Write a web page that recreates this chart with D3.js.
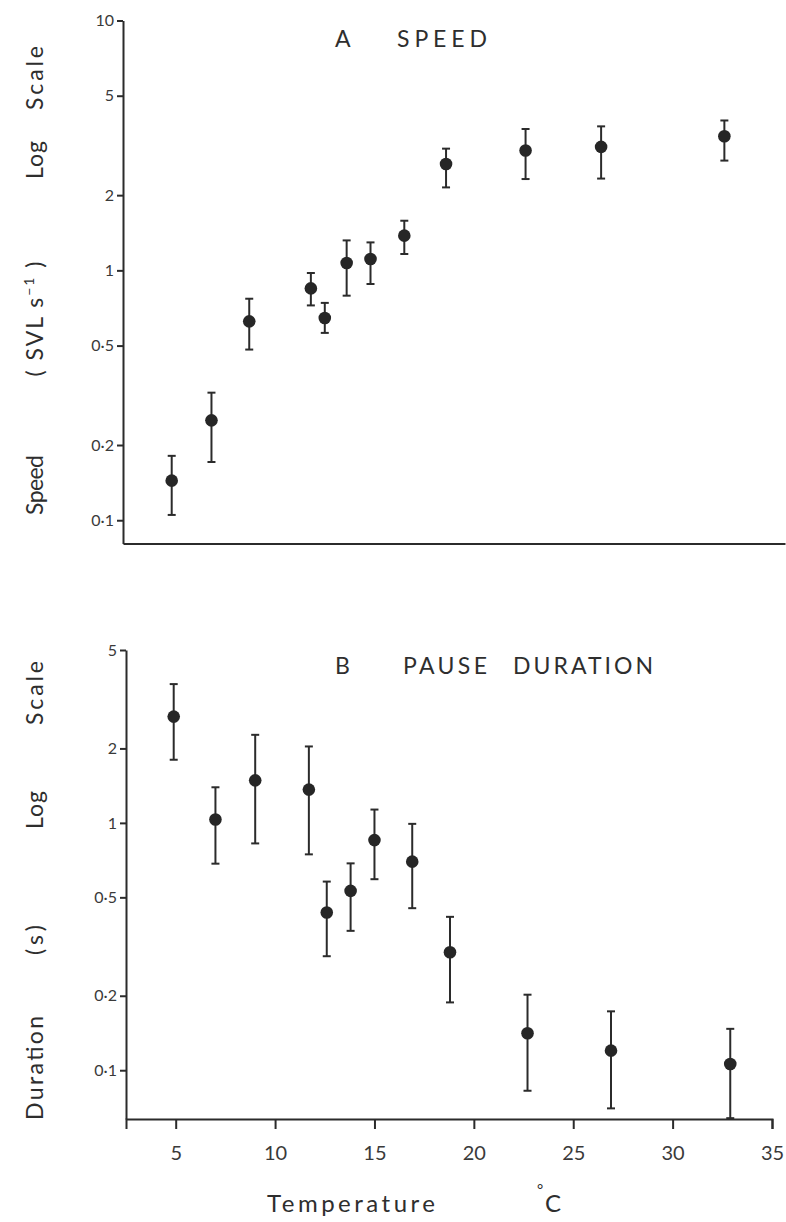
<!DOCTYPE html>
<meta charset="utf-8">
<style>
body { margin: 0; background: #fff; }
text { font-family: Lato, "Open Sans", sans-serif; fill: #2e2e2e; }
.axis path, .axis line { stroke: #2b2b2b; stroke-width: 2px; }
.axis text { font-size: 16px; fill: #3a3a3a; }
.xaxis text { font-size: 20px; }
.bar { stroke: #2b2b2b; stroke-width: 2px; }
.dot { fill: #262626; }
</style>
<body>
<script src="https://d3js.org/d3.v7.min.js"></script>
<script>

// panel A: speed (SVL s-1)
var tempA  = [4.8, 6.8, 8.7, 11.8, 12.5, 13.6, 14.8, 16.5, 18.6, 22.6, 26.4, 32.6];
var speed  = [0.144, 0.251, 0.625, 0.847, 0.645, 1.07, 1.11, 1.377, 2.665, 3.02, 3.12, 3.44];
var speedHi = [0.181, 0.324, 0.77, 0.976, 0.741, 1.318, 1.294, 1.58, 3.07, 3.68, 3.77, 3.98];
var speedLo = [0.105, 0.171, 0.482, 0.724, 0.562, 0.792, 0.882, 1.163, 2.148, 2.32, 2.33, 2.75];

// panel B: pause duration (s)
var tempB  = [4.9, 7.0, 9.0, 11.7, 12.6, 13.8, 15.0, 16.9, 18.8, 22.7, 26.9, 32.9];
var pause  = [2.69, 1.032, 1.486, 1.363, 0.434, 0.531, 0.852, 0.697, 0.30, 0.141, 0.120, 0.106];
var pauseHi = [3.64, 1.393, 2.27, 2.037, 0.579, 0.686, 1.132, 0.991, 0.417, 0.202, 0.173, 0.147];
var pauseLo = [1.80, 0.684, 0.826, 0.746, 0.289, 0.366, 0.592, 0.452, 0.188, 0.0826, 0.0701, 0.064];

var ticksA = [0.1, 0.2, 0.5, 1, 2, 5, 10];
var ticksB = [0.1, 0.2, 0.5, 1, 2, 5];
var ticksX = [5, 10, 15, 20, 25, 30, 35];

var width = 786, height = 1222;

var svg = d3.select("body").append("svg")
    .attr("width", width)
    .attr("height", height);

var fmt = function(d) { return d < 1 ? String(d).replace(".", "\u00b7") : String(d); };

var xA = d3.scaleLinear().domain([2.35, 35.65]).range([123, 785]);
var xB = d3.scaleLinear().domain([2.5, 35]).range([126, 772]);
var yA = d3.scaleLog().domain([0.0807, 10]).range([543.5, 20.5]);
var yB = d3.scaleLog().domain([0.0635, 5]).range([1119, 650]);

function panel(x, y, ticks, temps, vals, lo, hi, showX) {
  var g = svg.append("g");
  var left = x.range()[0], bottom = y.range()[0];

  g.append("g").attr("class", "axis")
    .attr("transform", "translate(" + left + ",0)")
    .call(d3.axisLeft(y).tickValues(ticks).tickFormat(fmt).tickSize(6).tickSizeOuter(0).tickPadding(3));

  var ax = d3.axisBottom(x).tickSizeOuter(0);
  if (showX) ax.tickValues(ticksX).tickSize(10).tickPadding(17).tickFormat(d3.format("d"));
  else ax.tickValues([]);
  g.append("g").attr("class", "axis xaxis")
    .attr("transform", "translate(0," + bottom + ")")
    .call(ax);

  var pts = g.selectAll(".pt").data(temps).enter().append("g").attr("class", "pt");
  pts.append("line").attr("class", "bar")
    .attr("x1", d => x(d)).attr("x2", d => x(d))
    .attr("y1", (d, i) => y(lo[i])).attr("y2", (d, i) => y(hi[i]));
  pts.append("line").attr("class", "bar")
    .attr("x1", d => x(d) - 4).attr("x2", d => x(d) + 4)
    .attr("y1", (d, i) => y(hi[i])).attr("y2", (d, i) => y(hi[i]));
  pts.append("line").attr("class", "bar")
    .attr("x1", d => x(d) - 4).attr("x2", d => x(d) + 4)
    .attr("y1", (d, i) => y(lo[i])).attr("y2", (d, i) => y(lo[i]));
  pts.append("circle").attr("class", "dot")
    .attr("cx", d => x(d)).attr("cy", (d, i) => y(vals[i])).attr("r", 6.3);
  return g;
}

panel(xA, yA, ticksA, tempA, speed, speedLo, speedHi, false);
panel(xB, yB, ticksB, tempB, pause, pauseLo, pauseHi, true);

// titles
function title(x, yb, txt, w) {
  svg.append("text").attr("x", x).attr("y", yb)
    .attr("textLength", w).attr("lengthAdjust", "spacing")
    .style("font-size", "23px").text(txt);
}
title(335, 47, "A", 17);
title(397, 47, "SPEED", 90);
title(335, 674, "B", 15);
title(403, 674, "PAUSE", 84);
title(513, 674, "DURATION", 140);

// rotated y labels
function ylab(cy, txt, w) {
  return svg.append("text")
    .attr("transform", "translate(43," + cy + ") rotate(-90)")
    .attr("text-anchor", "middle")
    .attr("textLength", w).attr("lengthAdjust", "spacing")
    .style("font-size", "23px")
    .text(txt);
}
ylab(485, "Speed", 60);
var svl = svg.append("text")
  .attr("transform", "translate(43,318) rotate(-90)")
  .attr("text-anchor", "middle")
  .style("font-size", "23px").style("letter-spacing", "2px");
svl.append("tspan").text("(  SVL  s");
svl.append("tspan").attr("dy", -9).style("font-size", "14px").text("\u22121");
svl.append("tspan").attr("dy", 9).text("  )");
ylab(160, "Log", 38);
ylab(78, "Scale", 64);
ylab(1068, "Duration", 104);
ylab(940, "(s)", 30);
ylab(810, "Log", 38);
ylab(693, "Scale", 64);

// x label
svg.append("text").attr("x", 267).attr("y", 1212)
  .attr("textLength", 168).attr("lengthAdjust", "spacing")
  .style("font-size", "24px").text("Temperature");
svg.append("text").attr("x", 537).attr("y", 1195)
  .style("font-size", "15px").text("\u00b0");
svg.append("text").attr("x", 545).attr("y", 1212)
  .style("font-size", "24px").text("C");

</script>
</body>
</html>
